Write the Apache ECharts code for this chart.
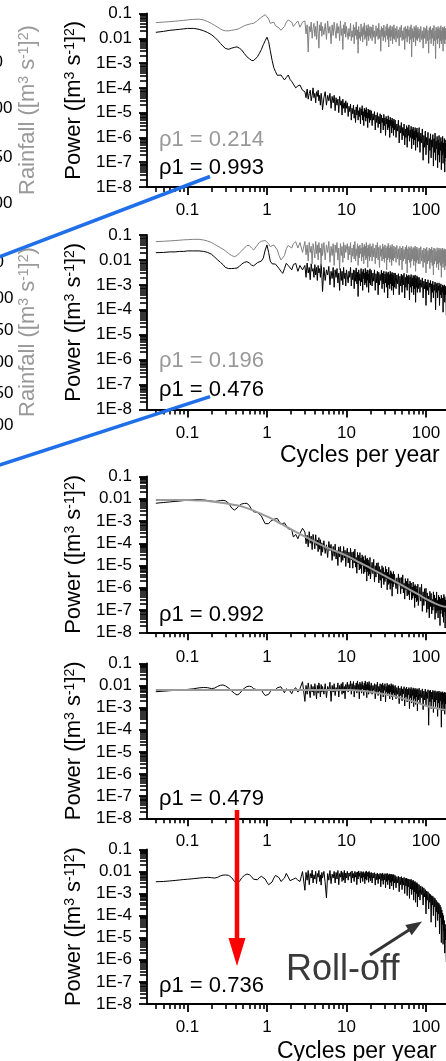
<!DOCTYPE html>
<html><head><meta charset="utf-8">
<script src="https://cdn.jsdelivr.net/npm/echarts@6/dist/echarts.min.js"></script>
<style>html,body{margin:0;padding:0;background:#fff;} #c{width:446px;height:1061px;}</style>
</head><body><div id="c"></div>
<script>
// ---------- DATA ----------
// frequency grid (cycles per year)
const freq = [
 0.04,0.05,0.06,0.07,0.08,0.09,0.1,0.12,0.14,0.16,0.18,0.2,0.22,0.24,0.26,0.28,0.3,0.33,0.36,0.39,
 0.42,0.45,0.48,0.52,0.56,0.6,0.64,0.68,0.72,0.76,0.8,0.85,0.9,0.95,1.0,1.05,1.1,1.16,1.22,1.28,
 1.35,1.42,1.5,1.58,1.66,1.75,1.85,1.95,2.05,2.15,2.3,2.45,2.6,2.8,
 3.0,3.1,3.2,3.3,3.4,3.5,3.6,3.7,3.8,3.9,4.0,4.1,4.2,4.3,4.4,4.5,4.6,4.7,4.8,4.9,5.0,
 5.2,5.4,5.6,5.8,6.0,6.2,6.4,6.6,6.8,7.0,7.2,7.4,7.6,7.8,8.0,8.2,8.4,8.6,8.8,9.0,9.2,9.4,9.6,9.8,10,
 10.25,10.5,10.75,11,11.25,11.5,11.75,12,12.25,12.5,12.75,13,13.25,13.5,13.75,14,14.25,14.5,14.75,15,
 15.25,15.5,15.75,16,16.25,16.5,16.75,17,17.25,17.5,17.75,18,18.25,18.5,18.75,19,19.25,19.5,19.75,20,
 20.5,21,21.5,22,22.5,23,23.5,24,24.5,25,25.5,26,26.5,27,27.5,28,28.5,29,29.5,30,
 30.5,31,31.5,32,32.5,33,33.5,34,34.5,35,35.5,36,36.5,37,37.5,38,38.5,39,39.5,40,
 41,42,43,44,45,46,47,48,49,50,51,52,53,54,55,56,57,58,59,60,
 61,62,63,64,65,66,67,68,69,70,71,72,73,74,75,76,77,78,79,80,
 82,84,86,88,90,92,94,96,98,100,102,104,106,108,110,112,114,116,118,120,
 122,124,126,128,130,132,134,136,138,140,142,144,146,148,150,152,154,156,158,160,
 162,164,166,168,170,172,174,176,178,180
];
const fitFreq = [0.04,0.07,0.1,0.15,0.2,0.3,0.4,0.5,0.7,1,1.5,2,3,5,7,10,15,20,30,40,60,80,100,130,160,180];

// Panel 1: rainfall (grey) and streamflow (black) power
const p1Rain = [
 0.043,0.045,0.047,0.049,0.051,0.053,0.055,0.058,0.059,0.055,
 0.047,0.04,0.033,0.028,0.024,0.021,0.02,0.02,0.021,0.022,
 0.023,0.025,0.028,0.032,0.035,0.037,0.039,0.04,0.045,0.052,
 0.06,0.07,0.08,0.09,0.1,0.06,0.04,0.035,0.045,0.032,
 0.03,0.026,0.021,0.024,0.03,0.045,0.055,0.06,0.045,0.03,
 0.04,0.05,0.028,0.045,
 0.05,0.015,0.035,0.0028,0.03,0.018,0.045,0.01,0.025,0.04,0.012,0.03,0.009,0.05,0.016,0.004,0.035,0.02,0.045,0.012,0.03,
 0.014,0.04,0.009,0.05,0.016,0.03,0.006,0.035,0.013,0.045,0.02,0.01,0.04,0.016,0.03,0.008,0.05,0.013,0.025,0.0035,0.035,0.015,0.045,0.011,0.03,
 0.03,0.009,0.025,0.012,0.04,0.008,0.02,0.011,0.035,0.006,
 0.028,0.013,0.045,0.009,0.022,0.0025,0.03,0.01,0.018,0.008,
 0.038,0.012,0.025,0.007,0.03,0.014,0.042,0.009,0.02,0.011,
 0.033,0.005,0.026,0.012,0.036,0.008,0.022,0.013,0.03,0.01,
 0.028,0.008,0.035,0.011,0.02,0.006,0.032,0.012,0.025,0.009,
 0.04,0.01,0.022,0.003,0.03,0.012,0.026,0.008,0.034,0.011,
 0.02,0.007,0.03,0.013,0.038,0.009,0.024,0.0045,0.028,0.011,
 0.033,0.008,0.021,0.012,0.03,0.006,0.026,0.01,0.035,0.009,
 0.025,0.007,0.03,0.01,0.022,0.005,0.028,0.011,0.034,0.008,
 0.02,0.009,0.027,0.0035,0.03,0.01,0.024,0.007,0.032,0.012,
 0.022,0.006,0.028,0.009,0.035,0.0018,0.025,0.01,0.02,0.007,
 0.03,0.011,0.026,0.005,0.033,0.009,0.022,0.008,0.028,0.01,
 0.024,0.007,0.03,0.009,0.02,0.004,0.028,0.01,0.025,0.006,
 0.032,0.008,0.021,0.0025,0.027,0.009,0.03,0.006,0.022,0.01,
 0.026,0.005,0.033,0.008,0.02,0.0015,0.028,0.009,0.024,0.006,
 0.03,0.01,0.022,0.004,0.027,0.008,0.032,0.006,0.02,0.009,
 0.028,0.003,0.025,0.008,0.03,0.006,0.022,0.009,0.026,0.005
];
const p1Flow = [
 0.0174,0.019,0.021,0.022,0.023,0.024,0.025,0.025,0.023,0.02,
 0.017,0.014,0.011,0.0083,0.0062,0.0048,0.0039,0.0036,0.004,0.0043,
 0.0045,0.004,0.0034,0.0024,0.0018,0.0015,0.00128,0.00126,0.0014,0.0018,
 0.0024,0.0035,0.0055,0.008,0.011,0.0073,0.0032,0.0013,0.00065,0.00045,
 0.00032,0.00028,0.00033,0.00026,0.00021,0.00026,0.00033,0.00022,0.00018,0.00015,
 0.0001,0.00012,0.00013,0.00008,
 7e-5,4e-5,9e-5,3.5e-5,6e-5,8e-5,3e-5,5e-5,1e-4,4e-5,6e-5,2.5e-5,7e-5,4.5e-5,8e-5,3e-5,5e-5,2e-5,6e-5,3.5e-5,1.3e-5,
 4e-5,7e-5,2e-5,5e-5,3e-5,6e-5,1.5e-5,4.5e-5,2.5e-5,5e-5,1.2e-5,4e-5,2e-5,3.5e-5,1e-5,4.5e-5,2e-5,3e-5,8e-6,3.5e-5,1.5e-5,2.5e-5,1e-5,3e-5,1.5e-5,
 2.5e-5,7e-6,1.8e-5,1.1e-5,2.2e-5,5e-6,1.5e-5,9e-6,2e-5,6e-6,
 1.3e-5,4e-6,1.7e-5,8e-6,2.1e-5,5e-6,1.2e-5,7e-6,1.6e-5,3.5e-6,
 1.4e-5,8e-6,1.9e-5,5e-6,1.1e-5,3e-6,1.5e-5,7e-6,1.3e-5,4.5e-6,
 1.6e-5,6e-6,1e-5,2.5e-6,1.4e-5,6e-6,1.2e-5,4e-6,1.3e-5,5e-6,
 1.2e-5,3e-6,9e-6,5e-6,1.1e-5,2e-6,8e-6,4e-6,1e-5,2.5e-6,
 7e-6,3.5e-6,9e-6,1.5e-6,8e-6,4e-6,6e-6,2e-6,8.5e-6,3e-6,
 6e-6,1.2e-6,7e-6,3.5e-6,5.5e-6,2e-6,7.5e-6,2.5e-6,5e-6,1e-6,
 6.5e-6,3e-6,5e-6,1.5e-6,6e-6,2.5e-6,4.5e-6,1.2e-6,5.5e-6,2e-6,
 5e-6,1e-6,3.5e-6,1.8e-6,5e-6,6e-7,3e-6,1.5e-6,4e-6,8e-7,
 2.5e-6,1.2e-6,3.5e-6,5e-7,2.2e-6,1e-6,3e-6,4e-7,2.5e-6,1.2e-6,
 3.2e-6,7e-7,2e-6,1e-6,2.8e-6,3.5e-7,2.2e-6,9e-7,2.6e-6,5e-7,
 1.8e-6,8e-7,2.5e-6,3e-7,2e-6,1e-6,2.4e-6,4e-7,1.6e-6,7e-7,
 2.5e-6,2.5e-7,1.5e-6,6e-7,2.2e-6,1.2e-7,1.2e-6,4e-7,1.8e-6,2e-7,
 1e-6,5e-7,1.6e-6,9e-8,9e-7,3e-7,1.4e-6,1.5e-7,8e-7,4e-7,
 1.3e-6,7e-8,9e-7,2.5e-7,1.5e-6,1.2e-7,7e-7,3.5e-7,1.1e-6,6e-8,
 8e-7,2e-7,1.2e-6,1e-7,6e-7,3e-7,1e-6,5e-8,7e-7,2e-7,
 1.1e-6,9e-8,6e-7,2.5e-7,9e-7,4e-8,6e-7,1.5e-7,8e-7,1e-7
];
// Panel 2
const p2Rain = [
 0.054,0.056,0.058,0.06,0.062,0.064,0.065,0.067,0.067,0.063,
 0.057,0.05,0.042,0.036,0.031,0.027,0.023,0.018,0.015,0.0135,
 0.015,0.019,0.023,0.03,0.038,0.038,0.03,0.025,0.03,0.04,
 0.05,0.056,0.05,0.06,0.067,0.045,0.034,0.036,0.04,0.038,
 0.025,0.015,0.01,0.0085,0.015,0.028,0.038,0.04,0.03,0.045,
 0.054,0.03,0.05,0.02,
 0.055,0.016,0.04,0.009,0.05,0.02,0.035,0.007,0.045,0.025,0.012,0.055,0.018,0.04,0.01,0.05,0.02,0.03,0.006,0.045,0.015,
 0.05,0.01,0.04,0.02,0.055,0.008,0.035,0.015,0.045,0.006,0.04,0.02,0.05,0.01,0.03,0.004,0.045,0.015,0.035,0.008,0.05,0.012,0.04,0.02,0.03,
 0.045,0.01,0.035,0.016,0.05,0.008,0.03,0.014,0.04,0.011,
 0.055,0.009,0.028,0.015,0.045,0.006,0.035,0.012,0.04,0.018,
 0.03,0.009,0.048,0.013,0.033,0.007,0.042,0.015,0.036,0.01,
 0.05,0.012,0.03,0.005,0.04,0.014,0.034,0.009,0.045,0.013,
 0.035,0.009,0.045,0.013,0.03,0.007,0.04,0.012,0.05,0.01,
 0.032,0.005,0.038,0.014,0.028,0.009,0.044,0.011,0.034,0.008,
 0.04,0.012,0.03,0.004,0.036,0.01,0.046,0.012,0.03,0.008,
 0.038,0.011,0.033,0.006,0.042,0.01,0.028,0.009,0.036,0.012,
 0.032,0.008,0.038,0.011,0.028,0.006,0.035,0.01,0.03,0.004,
 0.036,0.009,0.026,0.011,0.033,0.007,0.038,0.003,0.028,0.01,
 0.034,0.008,0.03,0.005,0.035,0.009,0.027,0.011,0.032,0.006,
 0.03,0.009,0.036,0.0035,0.028,0.008,0.033,0.01,0.026,0.007,
 0.03,0.007,0.034,0.009,0.025,0.005,0.03,0.008,0.028,0.003,
 0.032,0.007,0.024,0.009,0.03,0.0045,0.027,0.008,0.033,0.006,
 0.025,0.0025,0.03,0.007,0.028,0.009,0.022,0.005,0.031,0.007,
 0.026,0.004,0.03,0.008,0.024,0.006,0.029,0.002,0.026,0.007,
 0.03,0.005,0.024,0.008,0.028,0.004,0.025,0.006,0.027,0.005
];
const p2Flow = [
 0.0195,0.02,0.021,0.021,0.022,0.022,0.023,0.023,0.023,0.022,
 0.02,0.017,0.013,0.01,0.008,0.0065,0.005,0.0045,0.0045,0.0046,
 0.0047,0.0055,0.0068,0.008,0.0085,0.0075,0.0062,0.0058,0.0065,0.0078,
 0.0085,0.009,0.012,0.025,0.04,0.02,0.009,0.007,0.0065,0.0068,
 0.006,0.0045,0.0035,0.0029,0.0045,0.0073,0.006,0.0054,0.004,0.0065,
 0.0073,0.0035,0.006,0.004,
 0.006,0.002,0.0075,0.003,0.005,0.0016,0.007,0.0035,0.0045,0.002,0.0065,0.0025,0.005,0.0015,0.006,0.003,0.0045,0.002,0.007,0.0025,0.00054,
 0.005,0.0015,0.004,0.0025,0.0055,0.001,0.0035,0.0018,0.005,0.0008,0.004,0.002,0.0045,0.0012,0.003,0.0006,0.0045,0.0015,0.0035,0.001,0.005,0.0018,0.003,0.0009,0.004,
 0.0045,0.0012,0.0035,0.002,0.005,0.0009,0.003,0.0016,0.004,0.0007,
 0.0038,0.0014,0.0048,0.0011,0.0032,0.00034,0.004,0.0015,0.0028,0.0009,
 0.0045,0.0013,0.0034,0.0006,0.0042,0.0018,0.003,0.001,0.0046,0.0012,
 0.0033,0.0008,0.004,0.0015,0.0028,0.0005,0.0038,0.0012,0.0044,0.001,
 0.0038,0.0009,0.003,0.0014,0.004,0.0006,0.0028,0.0012,0.0035,0.0004,
 0.0032,0.001,0.0026,0.0015,0.0038,0.0007,0.003,0.0011,0.0035,0.0005,
 0.0027,0.0012,0.0034,0.0008,0.0029,0.0003,0.0033,0.001,0.0026,0.0007,
 0.0035,0.0011,0.0028,0.0006,0.0032,0.0009,0.0025,0.0004,0.003,0.0008,
 0.003,0.0007,0.0025,0.0011,0.0028,0.0004,0.0022,0.0009,0.0027,0.0005,
 0.0024,0.001,0.0029,0.0003,0.002,0.0008,0.0026,0.0006,0.0023,0.0011,
 0.0025,0.00025,0.0021,0.0008,0.0026,0.0005,0.0019,0.0009,0.0024,0.0004,
 0.0022,0.0007,0.0025,0.0002,0.0018,0.0008,0.0023,0.0005,0.002,0.0007,
 0.002,0.0005,0.0016,0.0008,0.0019,0.0003,0.0014,0.0007,0.0017,0.00015,
 0.0013,0.0006,0.0016,0.0004,0.0012,0.0008,0.0015,0.0002,0.0011,0.0005,
 0.0014,0.0003,0.001,0.0006,0.0013,0.0001,0.0011,0.0005,0.0012,0.0003,
 0.0009,0.0006,0.0012,0.00015,0.001,0.0004,0.0011,0.0003,0.0008,0.0005,
 0.001,0.00008,0.0009,0.0004,0.001,0.0002,0.0008,0.0004,0.0009,0.00006
];
// Panel 3: streamflow spectrum and AR(1) fit
const p3Flow = [
 6.3e-3,6.8e-3,7.2e-3,7.6e-3,7.9e-3,8.3e-3,8.7e-3,9.1e-3,9.3e-3,8.9e-3,
 8.3e-3,7.9e-3,7.6e-3,7.9e-3,8.3e-3,8.5e-3,8.1e-3,6.3e-3,3.8e-3,3.1e-3,
 3.8e-3,5e-3,5.8e-3,6.2e-3,6.2e-3,5e-3,3.3e-3,2.6e-3,2.4e-3,2.4e-3,
 2e-3,1.7e-3,1.1e-3,7.6e-4,6.6e-4,7.6e-4,9.5e-4,1.1e-3,1.2e-3,1.26e-3,
 1.3e-3,1.1e-3,7.1e-4,6.6e-4,8.3e-4,7.1e-4,4.5e-4,3.9e-4,4e-4,1.9e-4,
 2.5e-4,1.6e-4,2.8e-4,4.7e-4,
 3.2e-4,9.5e-5,2.3e-4,6.9e-5,3.3e-4,1e-4,2.1e-4,5.2e-5,2.5e-4,1.35e-4,5.6e-5,2.4e-4,8.1e-5,1.4e-4,4.2e-5,1.8e-4,5.4e-5,1.45e-4,2.8e-5,1.05e-4,4e-5,
 1.3e-4,3.5e-5,8.5e-5,2.3e-5,1.2e-4,4.7e-5,8.9e-5,1.7e-5,7.2e-5,2.6e-5,9.1e-5,1.95e-5,4.7e-5,1e-5,6.9e-5,2.4e-5,7.2e-5,1.4e-5,4.3e-5,1.7e-5,7.1e-5,2.2e-5,4.8e-5,9.1e-6,3.5e-5,
 6e-5,1.3e-5,4e-5,7.8e-6,5.9e-5,1.8e-5,4e-5,7.6e-6,4.2e-5,1.3e-5,
 5.5e-5,8.5e-6,2.3e-5,4.5e-6,3.9e-5,1.2e-5,2.9e-5,6.3e-6,3.8e-5,7.4e-6,
 2.2e-5,4.4e-6,3e-5,1e-5,2.5e-5,4.3e-6,1.7e-5,5.1e-6,2.8e-5,6.8e-6,
 1.9e-5,2e-6,2.2e-5,5.3e-6,1.8e-5,3.5e-6,1.35e-5,4.2e-6,2.3e-5,2.5e-6,
 2.9e-6,1.4e-5,4.3e-6,1.9e-5,1.8e-6,9.8e-6,3e-6,1.3e-5,4.4e-6,1.35e-5,
 1.65e-6,8.9e-6,2.2e-6,6.6e-6,1e-6,9.8e-6,2.7e-6,8.1e-6,1.4e-6,4.9e-6,
 1.9e-6,9.1e-6,2.5e-6,6.8e-6,8.1e-7,5e-6,1.4e-6,8.3e-6,1.6e-6,3.9e-6,
 8.5e-7,5.8e-6,1.6e-6,4.8e-6,4.2e-7,4e-6,1.1e-6,5.4e-6,1.45e-6,4e-6,
 4.3e-6,9.2e-7,2.8e-6,5.4e-7,4.2e-6,1.3e-6,2.8e-6,5.4e-7,2.9e-6,8.9e-7,
 3.8e-6,5.9e-7,1.6e-6,3.1e-7,2.6e-6,8.1e-7,1.95e-6,4.3e-7,2.6e-6,5e-7,
 1.5e-6,2.9e-7,2e-6,6.9e-7,1.65e-6,2.9e-7,1.1e-6,3.4e-7,1.8e-6,4.5e-7,
 1.2e-6,1.3e-7,1.4e-6,3.5e-7,1.2e-6,2.3e-7,8.7e-7,2.7e-7,1.45e-6,1.6e-7,
 1.6e-7,1.05e-6,2.5e-7,1.45e-6,8.7e-8,6.6e-7,1.6e-7,9.1e-7,2.5e-7,9.5e-7,
 7.8e-8,5.9e-7,1.1e-7,4.2e-7,4.5e-8,6.9e-7,1.45e-7,5.6e-7,6.8e-8,3e-7,
 9.8e-8,6.6e-7,1.4e-7,4.8e-7,3.8e-8,3.4e-7,7.2e-8,6.5e-7,9.1e-8,2.7e-7,
 4.4e-8,4.6e-7,9.8e-8,3.8e-7,2e-8,3.2e-7,6.9e-8,4.7e-7,1e-7,3.5e-7,
 5e-8,3.4e-7,2.8e-8,5e-7,8.3e-8,3.7e-7,1.55e-8,2.8e-7,6e-8,4.2e-7
];
const p3Fit = [8.9e-3,8.9e-3,8.7e-3,8.3e-3,7.6e-3,6.3e-3,5.2e-3,4.3e-3,2.8e-3,1.6e-3,7.6e-4,4.3e-4,2e-4,7.9e-5,4.7e-5,2.8e-5,1.3e-5,7.6e-6,3.5e-6,2e-6,8.9e-7,5e-7,3.2e-7,2e-7,1.5e-7,1.4e-7];
// Panel 4
const p4Flow = [
 5.2e-3,5.5e-3,5.8e-3,6e-3,6.3e-3,6.5e-3,6.6e-3,7.1e-3,7.8e-3,8.1e-3,
 7.9e-3,7.2e-3,7.6e-3,9.1e-3,1.02e-2,1.05e-2,9.5e-3,7.6e-3,5.6e-3,4.4e-3,
 3.7e-3,4.2e-3,5.6e-3,7.6e-3,8.9e-3,9.3e-3,8.7e-3,7.1e-3,6e-3,6.3e-3,
 7.1e-3,6.3e-3,4.5e-3,3.5e-3,3.3e-3,4e-3,5.2e-3,6.6e-3,7.1e-3,6.3e-3,
 7.9e-3,9.1e-3,8.7e-3,6.3e-3,4.7e-3,7.1e-3,8.3e-3,5.6e-3,4.2e-3,6.3e-3,
 7.9e-3,5e-3,7.1e-3,1.48e-2,
 0.0019,0.01,0.004,0.013,0.006,0.0028,0.011,0.005,0.009,0.0035,0.012,0.006,0.0025,0.01,0.0045,0.013,0.007,0.003,0.011,0.005,0.009,
 0.004,0.012,0.0028,0.009,0.006,0.014,0.0019,0.01,0.005,0.012,0.0035,0.008,0.0055,0.013,0.003,0.01,0.006,0.012,0.004,0.014,0.0045,0.009,0.0025,0.011,0.006,
 0.014,0.005,0.011,0.007,0.016,0.004,0.012,0.006,0.015,0.003,
 0.01,0.0065,0.013,0.0045,0.016,0.0055,0.011,0.0025,0.014,0.006,
 0.012,0.0045,0.015,0.007,0.01,0.0035,0.013,0.006,0.016,0.005,
 0.011,0.0028,0.014,0.0065,0.012,0.004,0.015,0.0055,0.01,0.0045,
 0.013,0.004,0.01,0.006,0.012,0.0025,0.011,0.005,0.014,0.0035,
 0.009,0.0055,0.012,0.002,0.011,0.0045,0.013,0.003,0.01,0.006,
 0.012,0.0018,0.009,0.005,0.0125,0.0035,0.01,0.0045,0.011,0.0025,
 0.0095,0.005,0.012,0.003,0.01,0.0022,0.011,0.0045,0.009,0.0035,
 0.01,0.0025,0.008,0.004,0.0095,0.0015,0.0075,0.0035,0.009,0.002,
 0.007,0.0042,0.0088,0.0012,0.0072,0.003,0.0085,0.0018,0.0068,0.0038,
 0.008,0.0009,0.007,0.0028,0.0082,0.0016,0.0065,0.0035,0.0078,0.0011,
 0.0068,0.0026,0.0075,0.0014,0.0062,0.003,0.0072,0.0007,0.0065,0.0022,
 0.0075,0.0015,0.006,0.0028,0.007,0.0008,0.0055,0.0022,0.0068,0.0012,
 0.0052,0.0026,0.0064,0.00016,0.0058,0.0018,0.0062,0.0009,0.005,0.0024,
 0.006,0.0006,0.0054,0.0018,0.0058,0.0011,0.0048,0.0022,0.0055,0.0004,
 0.005,0.0016,0.0056,0.0009,0.0046,0.002,0.0052,0.00013,0.0048,0.0014,
 0.0052,0.0007,0.0044,0.0018,0.005,0.0005,0.0045,0.0015,0.0048,0.0008
];
const p4Fit = [6.3e-3,6.3e-3,6.3e-3,6.3e-3,6.3e-3,6.3e-3,6.3e-3,6.3e-3,6.3e-3,6.3e-3,6.3e-3,6.3e-3,6.3e-3,6.3e-3,6.3e-3,6.2e-3,5.8e-3,5.2e-3,4e-3,3.3e-3,2.2e-3,1.6e-3,1.2e-3,9.5e-4,8.3e-4,7.9e-4];
// Panel 5
const p5Flow = [
 3.4e-3,3.5e-3,3.7e-3,3.9e-3,4.1e-3,4.3e-3,4.4e-3,4.7e-3,5e-3,5.2e-3,
 5.4e-3,5.2e-3,5e-3,5.4e-3,6.3e-3,6.8e-3,6.9e-3,6.6e-3,5.2e-3,3.5e-3,
 2.7e-3,3.5e-3,5e-3,6.6e-3,7.6e-3,7.1e-3,5.8e-3,4.4e-3,3.8e-3,4.2e-3,
 5.2e-3,6e-3,5.8e-3,4.5e-3,3.2e-3,2.5e-3,2.4e-3,3.3e-3,5e-3,6.6e-3,
 6.9e-3,5.2e-3,3.5e-3,3.1e-3,5e-3,8.1e-3,5.6e-3,3.8e-3,3.4e-3,4.5e-3,
 5e-3,4e-3,3.5e-3,9.8e-3,
 0.0014,0.009,0.004,0.011,0.0025,0.008,0.005,0.0115,0.003,0.007,0.0045,0.01,0.0028,0.008,0.0055,0.011,0.0035,0.007,0.0024,0.009,0.005,
 0.01,0.003,0.00063,0.008,0.004,0.011,0.0028,0.0075,0.005,0.01,0.003,0.009,0.0045,0.011,0.0025,0.008,0.0055,0.0105,0.0035,0.009,0.004,0.011,0.003,0.0085,0.005,
 0.01,0.004,0.0085,0.006,0.0095,0.003,0.0105,0.005,0.008,0.0035,
 0.01,0.0055,0.009,0.0025,0.0095,0.0045,0.0105,0.006,0.0085,0.003,
 0.01,0.005,0.009,0.0035,0.0098,0.0055,0.008,0.0028,0.0095,0.0045,
 0.0105,0.004,0.0088,0.006,0.0092,0.0032,0.01,0.005,0.0085,0.0038,
 0.009,0.003,0.0085,0.005,0.0088,0.0024,0.0078,0.0042,0.0085,0.0028,
 0.0075,0.0045,0.0082,0.002,0.0078,0.0038,0.0085,0.0026,0.0072,0.0042,
 0.008,0.0018,0.0076,0.0035,0.0082,0.0025,0.007,0.004,0.0078,0.0016,
 0.0072,0.0032,0.0076,0.0022,0.0068,0.0036,0.0074,0.0015,0.007,0.003,
 0.0065,0.0018,0.0058,0.003,0.006,0.0012,0.0055,0.0025,0.0058,0.0015,
 0.005,0.0024,0.0054,0.001,0.0048,0.0022,0.005,0.0008,0.0046,0.002,
 0.0045,0.0006,0.0042,0.0016,0.0044,0.0009,0.0038,0.0015,0.004,0.0005,
 0.0034,0.0012,0.0035,0.0004,0.003,0.001,0.0031,0.00025,0.0027,0.0007,
 0.0025,0.0005,0.0022,0.0009,0.002,0.0003,0.0018,0.0007,0.0015,0.00012,
 0.0013,0.0005,0.0012,0.0002,0.001,0.0004,0.0009,0.00005,0.0008,0.0003,
 0.00075,0.0001,0.00065,0.00025,0.0006,0.00003,0.0005,0.00015,0.00042,0.00006,
 0.00038,0.00012,0.00035,0.000015,0.0003,0.00008,0.00024,0.000006,0.00018,0.00004,
 0.00013,0.000005,0.0001,0.00002,0.00006,0.000002,0.00004,0.000008,0.000025,0.0000008
];

// tick values and labels
const xTickValues = [0.1, 1, 10, 100];
const xTickLabels = ['0.1', '1', '10', '100'];
const xMinorValues = [0.04,0.05,0.06,0.07,0.08,0.09,0.2,0.3,0.4,0.5,0.6,0.7,0.8,0.9,2,3,4,5,6,7,8,9,20,30,40,50,60,70,80,90];
const yTickValues = [1e-8, 1e-7, 1e-6, 1e-5, 1e-4, 1e-3, 0.01, 0.1];
const yTickLabels = ['1E-8', '1E-7', '1E-6', '1E-5', '1E-4', '1E-3', '0.01', '0.1'];
const yMinorValues = [
 2e-8,3e-8,4e-8,5e-8,6e-8,7e-8,8e-8,9e-8, 2e-7,3e-7,4e-7,5e-7,6e-7,7e-7,8e-7,9e-7,
 2e-6,3e-6,4e-6,5e-6,6e-6,7e-6,8e-6,9e-6, 2e-5,3e-5,4e-5,5e-5,6e-5,7e-5,8e-5,9e-5,
 2e-4,3e-4,4e-4,5e-4,6e-4,7e-4,8e-4,9e-4, 2e-3,3e-3,4e-3,5e-3,6e-3,7e-3,8e-3,9e-3,
 0.02,0.03,0.04,0.05,0.06,0.07,0.08,0.09
];
const rhoLabels = [['ρ1 = 0.214','ρ1 = 0.993'], ['ρ1 = 0.196','ρ1 = 0.476'], [null,'ρ1 = 0.992'], [null,'ρ1 = 0.479'], [null,'ρ1 = 0.736']];

// ---------- LAYOUT ----------
const FONT = '"Liberation Sans", Arial, Helvetica, sans-serif';
const X_MIN = 0.031, X_MAX = 178.5, Y_MIN = 1e-8, Y_MAX = 0.1;
const panels = [
  {top: 13.5, bottom: 187, lm: 15},
  {top: 235, bottom: 409.5, lm: 15},
  {top: 476.5, bottom: 632.3, lm: 17},
  {top: 663.3, bottom: 818.3, lm: 15},
  {top: 849.3, bottom: 1004, lm: 15}
];
function near(a, b) { return Math.abs(Math.log10(a) - Math.log10(b)) < 1e-6; }
function fmtX(v) { const k = xTickValues.findIndex(t => near(t, v)); return k >= 0 ? xTickLabels[k] : ''; }
function fmtY(v) { const k = yTickValues.findIndex(t => near(t, v)); return k >= 0 ? yTickLabels[k] : ''; }
const pairs = (fs, vs) => fs.map((f, k) => [f, vs[k]]);

// tick-only helper log axes sharing the grid (minor ticks at 2..9 of each decade)
function tickAxis(dim, i, lo, hi, vals, len, w) {
  return {type: 'log', logBase: 10, gridIndex: i, min: lo, max: hi, position: dim === 'x' ? 'bottom' : 'left',
    axisLine: {show: false, onZero: false}, axisLabel: {show: false}, splitLine: {show: false}, minorTick: {show: false},
    axisTick: {show: true, inside: false, length: len, lineStyle: {color: '#000', width: w}, customValues: vals}};
}

const grids = [], xAxes = [], yAxes = [];
panels.forEach((p, i) => {
  grids.push({left: 147, width: 299, top: p.top, height: p.bottom - p.top, containLabel: false, outerBoundsMode: 'none'});
  xAxes.push({type: 'log', logBase: 10, gridIndex: i, min: X_MIN, max: X_MAX, position: 'bottom',
    axisLine: {show: true, onZero: false, lineStyle: {color: '#000', width: 1.8}},
    axisTick: {show: true, inside: false, length: 8, lineStyle: {color: '#000', width: 1.8}, customValues: xTickValues},
    axisLabel: {show: true, customValues: xTickValues, formatter: fmtX, color: '#000', fontSize: 17, fontFamily: FONT, margin: p.lm},
    splitLine: {show: false}, minorTick: {show: false}});
  xAxes.push(tickAxis('x', i, X_MIN, X_MAX, xMinorValues, 5, 1.6));
  yAxes.push({type: 'log', logBase: 10, gridIndex: i, min: Y_MIN, max: Y_MAX, position: 'left',
    axisLine: {show: true, onZero: false, lineStyle: {color: '#000', width: 1.8}},
    axisTick: {show: true, inside: false, length: 8, lineStyle: {color: '#000', width: 1.8}, customValues: yTickValues},
    axisLabel: {show: true, customValues: yTickValues, formatter: fmtY, color: '#000', fontSize: 17, fontFamily: FONT, margin: 15},
    splitLine: {show: false}, minorTick: {show: false},
    name: '{a|Power ([m}{s|3}{a| s}{s|-1}{a|]}{s|2}{a|)}', nameLocation: 'middle', nameRotate: 90, nameGap: 60,
    nameTextStyle: {rich: {a: {fontSize: 22, fontFamily: FONT, color: '#000'}, s: {fontSize: 14, fontFamily: FONT, color: '#000', verticalAlign: 'top'}}}});
  yAxes.push(tickAxis('y', i, Y_MIN, Y_MAX, yMinorValues, 7, 1.6));
});

function lineSeries(i, fs, vs, color, width, smooth) {
  return {type: 'line', xAxisIndex: 2 * i, yAxisIndex: 2 * i, data: pairs(fs, vs), symbol: 'none', showSymbol: false,
    smooth: !!smooth, clip: true, silent: true, lineStyle: {color: color, width: width}};
}
const series = [
  lineSeries(0, freq, p1Flow, '#000', 1),
  lineSeries(0, freq, p1Rain, '#808080', 1),
  lineSeries(1, freq, p2Flow, '#000', 1),
  lineSeries(1, freq, p2Rain, '#808080', 1),
  lineSeries(2, freq, p3Flow, '#000', 1),
  lineSeries(2, fitFreq, p3Fit, '#9a9a9a', 2, true),
  lineSeries(3, freq, p4Flow, '#000', 1),
  lineSeries(3, fitFreq, p4Fit, '#9a9a9a', 2, true),
  lineSeries(4, freq, p5Flow, '#000', 1)
];

// ---------- ANNOTATIONS ----------
const rich = {a: {fontSize: 22, fontFamily: FONT, fill: '#999'}, s: {fontSize: 14, fontFamily: FONT, fill: '#999', verticalAlign: 'top'}};
const graphic = [];
function txt(x, y, text, size, color) {
  graphic.push({type: 'text', x: x, y: y, z: 100, silent: true,
    style: {text: text, fontSize: size, fontFamily: FONT, fill: color, align: 'left', verticalAlign: 'middle'}});
}
// cut-off parts of the neighbouring rainfall panels
graphic.push({type: 'text', x: 28, y: 195, rotation: Math.PI / 2, z: 50, silent: true,
  style: {text: '{a|Rainfall ([m}{s|3}{a| s}{s|-1}{a|]}{s|2}{a|)}', rich: rich, align: 'left', verticalAlign: 'middle'}});
graphic.push({type: 'text', x: 28, y: 417, rotation: Math.PI / 2, z: 50, silent: true,
  style: {text: '{a|Rainfall ([m}{s|3}{a| s}{s|-1}{a|]}{s|2}{a|)}', rich: rich, align: 'left', verticalAlign: 'middle'}});
[['50', 62], ['100', 108], ['150', 157], ['200', 203]].forEach(d => txt(-16, d[1], d[0], 17, '#000'));
[['50', 262], ['100', 298], ['150', 330], ['200', 362], ['250', 393], ['300', 425]].forEach(d => txt(-15, d[1], d[0], 17, '#000'));
// rho labels
txt(159, 139.5, rhoLabels[0][0], 22, '#999');
txt(159, 168, rhoLabels[0][1], 22, '#000');
txt(159, 361, rhoLabels[1][0], 22, '#999');
txt(159, 389.5, rhoLabels[1][1], 22, '#000');
txt(159, 614.5, rhoLabels[2][1], 22, '#000');
txt(159, 798.5, rhoLabels[3][1], 22, '#000');
txt(159, 986, rhoLabels[4][1], 22, '#000');
// axis titles and callout
txt(280, 455.5, 'Cycles per year', 23, '#000');
txt(277, 1052, 'Cycles per year', 23, '#000');
txt(286, 970.5, 'Roll-off', 36, '#3a3a3a');
// connectors and arrows
graphic.push({type: 'line', z: 110, silent: true, shape: {x1: -2, y1: 257.5, x2: 210, y2: 176.5}, style: {stroke: '#1f6fe8', lineWidth: 3.5}});
graphic.push({type: 'line', z: 110, silent: true, shape: {x1: -2, y1: 465.5, x2: 210, y2: 396.7}, style: {stroke: '#1f6fe8', lineWidth: 3.5}});
graphic.push({type: 'line', z: 110, silent: true, shape: {x1: 237, y1: 810, x2: 237, y2: 942}, style: {stroke: '#ff0000', lineWidth: 4.5}});
graphic.push({type: 'polygon', z: 110, silent: true, shape: {points: [[228.5, 938], [245.5, 938], [237, 966]]}, style: {fill: '#ff0000'}});
graphic.push({type: 'line', z: 110, silent: true, shape: {x1: 370, y1: 955, x2: 409, y2: 930}, style: {stroke: '#333', lineWidth: 3}});
graphic.push({type: 'polygon', z: 110, silent: true, shape: {points: [[422, 921.5], [411.7, 935.2], [405.3, 925]]}, style: {fill: '#333'}});

const chart = echarts.init(document.getElementById('c'), null, {renderer: 'canvas'});
chart.setOption({
  animation: false, backgroundColor: '#fff',
  grid: grids, xAxis: xAxes, yAxis: yAxes, series: series, graphic: graphic
});
</script></body></html>
